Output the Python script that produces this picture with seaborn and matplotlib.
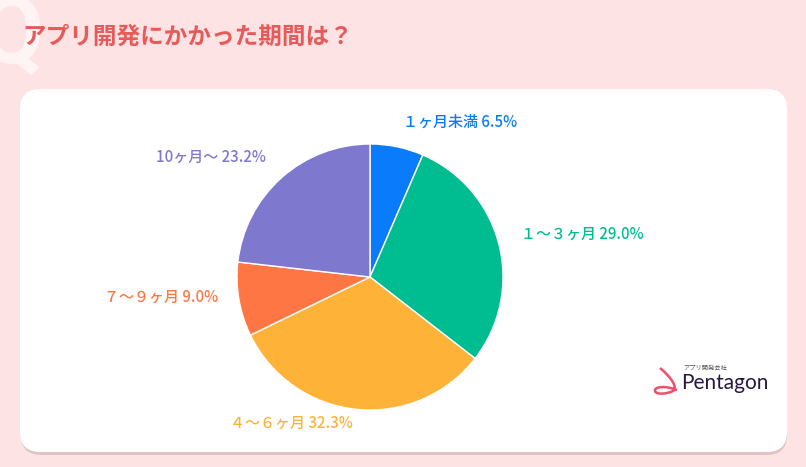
import seaborn as sns
import matplotlib
matplotlib.use("Agg")
import matplotlib.pyplot as plt
from matplotlib.patches import FancyBboxPatch, PathPatch
from matplotlib.path import Path

labels = ["１ヶ月未満", "１〜３ヶ月", "４〜６ヶ月", "７〜９ヶ月", "10ヶ月〜"]
values = [6.5, 29.0, 32.3, 9.0, 23.2]
colors = ["#0a7cfb", "#00bd91", "#ffb238", "#ff7645", "#7e78cf"]
title = "アプリ開発にかかった期間は？"

sns.set_theme(style="white")
plt.rcParams["font.family"] = ["Noto Sans CJK JP", "DejaVu Sans"]

W, H = 806, 467
bg = "#fde3e3"
fig = plt.figure(figsize=(W / 100, H / 100), dpi=100, facecolor=bg)

def px(x, y):
    return x / W, 1 - y / H

# big faint Q
fig.text(px(-22, -8)[0], px(-22, -8)[1], "Q", fontsize=68, fontweight="bold",
         color="#fff3f3", ha="left", va="top", family="Roboto", zorder=-3)
fig.text(px(22, 37)[0], px(22, 37)[1], title, fontsize=17, fontweight="bold",
         color="#e85a5a", ha="left", va="center")

# card with shadow
shadow = FancyBboxPatch(px(21, 455), 766 / W, 364 / H,
                        boxstyle="round,pad=0,rounding_size=0.025",
                        transform=fig.transFigure, facecolor="#c9a9a9",
                        edgecolor="none", alpha=0.55, mutation_aspect=W / H,
                        zorder=-2)
card = FancyBboxPatch(px(20, 452), 767 / W, 363 / H,
                      boxstyle="round,pad=0,rounding_size=0.025",
                      transform=fig.transFigure, facecolor="white",
                      edgecolor="none", mutation_aspect=W / H, zorder=-1)
fig.patches.extend([shadow, card])

# pie axes: center (370, 277), radius 133 px
cx, cy, r = 370, 277, 133
ax = fig.add_axes([(cx - r) / W, 1 - (cy + r) / H, 2 * r / W, 2 * r / H])
ax.patch.set_alpha(0)
ax.pie(values, colors=colors, startangle=90, counterclock=False,
       wedgeprops=dict(edgecolor="white", linewidth=1))
ax.set_xlim(-1, 1)
ax.set_ylim(-1, 1)
ax.set_aspect("equal")
ax.axis("off")

label_pos = [(460, 122), (521, 234), (291, 423), (161, 297), (211, 157)]
aligns = ["center", "left", "center", "center", "center"]
for lab, v, c, (x, y), ha in zip(labels, values, colors, label_pos, aligns):
    ax.text((x - cx) / r, (cy - y) / r, f"{lab} {v:.1f}%", color=c,
            fontsize=10.8, fontweight="medium", ha=ha, va="center", clip_on=False)

# logo
verts = [px(660, 368), px(672, 378), px(678, 388), px(673, 391),
         px(667, 394), px(656, 395), px(655, 391),
         px(654, 387), px(664, 385), px(677, 390)]
codes = [Path.MOVETO, Path.CURVE4, Path.CURVE4, Path.CURVE4,
         Path.CURVE4, Path.CURVE4, Path.CURVE4,
         Path.CURVE4, Path.CURVE4, Path.CURVE4]
fig.patches.append(PathPatch(Path(verts, codes), transform=fig.transFigure,
                             facecolor="none", edgecolor="#f24e6b", linewidth=1.8))
fig.text(*px(683, 368), "アプリ開発会社", fontsize=4.5, color="#555555",
         ha="left", va="center")
fig.text(*px(681, 383), "Pentagon", fontsize=15, color="#2a1840",
         ha="left", va="center", family="Lato")

plt.savefig("out.png", dpi=100, facecolor=bg)
plt.close()
